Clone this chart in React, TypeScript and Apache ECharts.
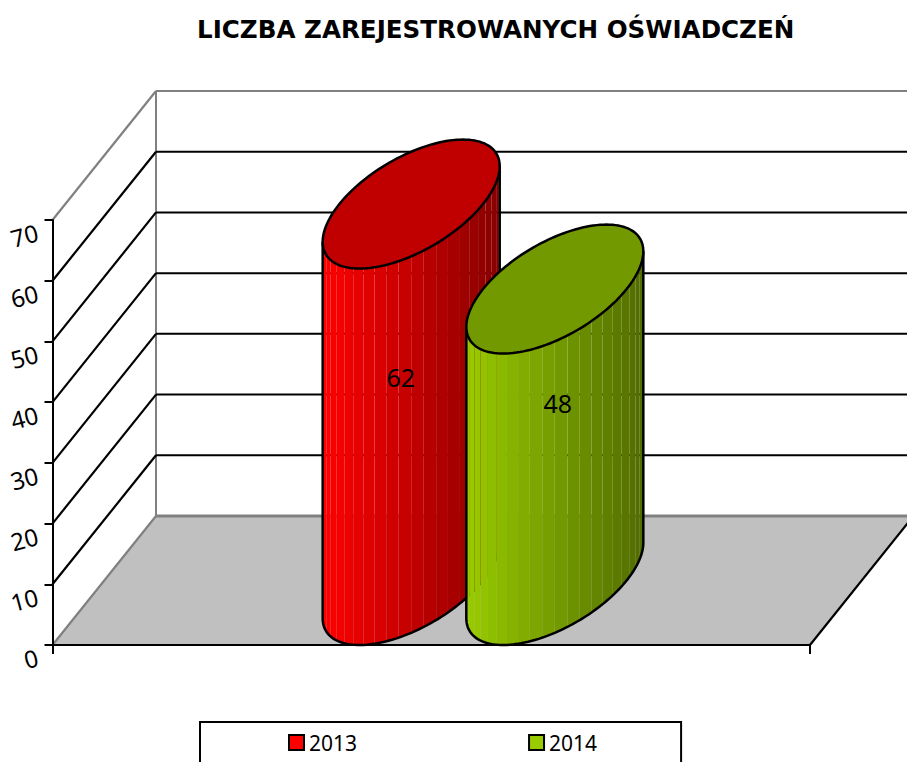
import React, { useEffect, useRef } from "react";
import * as echarts from "echarts";

const titleText = "LICZBA ZAREJESTROWANYCH OŚWIADCZEŃ";
const categories = [""];
const seriesNames = ["2013", "2014"];
const values2013 = [62];
const values2014 = [48];
const tickValues = [0, 10, 20, 30, 40, 50, 60, 70];

const FONT = "'Noto Sans', sans-serif";
const DEPTH_X = 103.5;
const DEPTH_Y = 129;
const BAR_RATIO = 0.0948;
const STRIPS = 22;

const styles = [
  { side: [255, 0, 0], top: "#C00000", side2: -1, labelDx: -10.5, labelDy: 108.5 },
  { side: [153, 204, 0], top: "#739900", side2: 1, labelDx: 3, labelDy: 49.5 },
];

function wallsItem(params: any, api: any) {
  const v = api.value(1);
  const cs = params.coordSys;
  const p = api.coord([0, v]);
  const x0 = cs.x;
  const x1 = cs.x + cs.width;
  const y = p[1];
  const gray = "#808080";
  const black = "#000000";
  const children: any[] = [];
  if (v === 0) {
    children.push({
      type: "polygon",
      shape: { points: [[x0, y], [x1, y], [x1 + DEPTH_X, y - DEPTH_Y], [x0 + DEPTH_X, y - DEPTH_Y]] },
      style: { fill: "#C0C0C0", stroke: null },
    });
    children.push({
      type: "line",
      shape: { x1: x1, y1: y, x2: x1 + DEPTH_X, y2: y - DEPTH_Y },
      style: { stroke: black, lineWidth: 2.2 },
    });
    const top = api.coord([0, 70])[1];
    children.push({
      type: "line",
      shape: { x1: x0 + DEPTH_X, y1: y - DEPTH_Y, x2: x0 + DEPTH_X, y2: top - DEPTH_Y },
      style: { stroke: gray, lineWidth: 2 },
    });
  }
  const edge = v === 0 || v === 70;
  children.push({
    type: "line",
    shape: { x1: x0, y1: y, x2: x0 + DEPTH_X, y2: y - DEPTH_Y },
    style: { stroke: edge ? gray : black, lineWidth: 2.2 },
  });
  children.push({
    type: "line",
    shape: { x1: x0 + DEPTH_X, y1: y - DEPTH_Y, x2: x1 + DEPTH_X, y2: y - DEPTH_Y },
    style: { stroke: edge ? gray : black, lineWidth: v === 0 ? 3 : 2 },
  });
  return { type: "group", children };
}

function cylinderItem(index: number) {
  return (params: any, api: any) => {
    const st = styles[index];
    const v = api.value(1);
    const top = api.coord([0, v]);
    const base = api.coord([0, 0]);
    const hw = api.size([1, 0])[0] * BAR_RATIO;
    const cx = top[0] + st.side2 * hw + DEPTH_X / 2;
    const topCy = top[1] - DEPTH_Y / 2;
    const baseCy = base[1] - DEPTH_Y / 2;
    const pt = (t: number, cy: number) => [
      cx + hw * Math.cos(t) + (DEPTH_X / 2) * Math.sin(t),
      cy - (DEPTH_Y / 2) * Math.sin(t),
    ];
    const tStar = Math.atan2(DEPTH_X / 2, hw);
    const children: any[] = [];
    const tAt = (k: number) => tStar - Math.PI + (k * Math.PI) / STRIPS;
    for (let k = 0; k < STRIPS; k++) {
      const t0 = tAt(k);
      const t1 = tAt(k + 1);
      const f = (1 - Math.cos(((k + 0.5) * Math.PI) / STRIPS)) / 2;
      const m = 1 - 0.47 * f;
      const [r, g, b] = st.side.map((c) => Math.round(c * m));
      children.push({
        type: "polygon",
        shape: {
          points: [pt(t0, topCy), pt(t1, topCy), pt(t1, baseCy), pt(t0, baseCy)],
        },
        style: { fill: `rgb(${r},${g},${b})`, stroke: null },
      });
    }
    const outline: number[][] = [pt(tStar, topCy)];
    for (let i = 0; i <= 72; i++) outline.push(pt(tStar - (i * Math.PI) / 72, baseCy));
    outline.push(pt(tStar - Math.PI, topCy));
    children.push({
      type: "polyline",
      shape: { points: outline },
      style: { stroke: "#000000", lineWidth: 2.5, fill: null },
    });
    const ellipse: number[][] = [];
    for (let i = 0; i < 144; i++) ellipse.push(pt((i * 2 * Math.PI) / 144, topCy));
    children.push({
      type: "polygon",
      shape: { points: ellipse },
      style: { fill: st.top, stroke: "#000000", lineWidth: 2.5 },
    });
    children.push({
      type: "text",
      style: {
        text: String(v),
        x: cx + st.labelDx,
        y: top[1] + st.labelDy,
        fill: "#000000",
        fontFamily: FONT,
        fontSize: 25,
        align: "center",
        verticalAlign: "middle",
      },
    });
    return { type: "group", children };
  };
}

export default function App() {
  const ref = useRef<HTMLDivElement>(null);
  useEffect(() => {
    const chart = echarts.init(ref.current!, null, { renderer: "svg" });
    chart.setOption({
      animation: false,
      backgroundColor: "#FFFFFF",
      title: {
        text: titleText,
        left: 197,
        top: 17,
        padding: 0,
        textStyle: { fontFamily: "'DejaVu Sans', sans-serif", fontSize: 24.6, fontWeight: "bold", color: "#000000" },
      },
      legend: {
        data: seriesNames.map((n, i) => ({
          name: n,
          icon: "rect",
          itemStyle: { color: "rgb(" + styles[i].side.join(",") + ")", borderColor: "#000000", borderWidth: 2 },
        })),
        left: 200,
        top: 722,
        orient: "horizontal",
        padding: [10, 84, 60, 88],
        itemWidth: 15,
        itemHeight: 15,
        itemGap: 171,
        borderColor: "#000000",
        borderWidth: 2,
        textStyle: { fontFamily: FONT, fontSize: 21, color: "#000000" },
      },
      grid: { left: 52.5, top: 220, width: 757.5, height: 425, containLabel: false },
      xAxis: {
        type: "category",
        data: categories,
        z: 3,
        axisLine: { lineStyle: { color: "#000000", width: 2 } },
        axisTick: { show: true, length: 9, lineStyle: { color: "#000000", width: 2 } },
        axisLabel: { show: false },
        splitLine: { show: false },
      },
      yAxis: {
        type: "value",
        min: 0,
        max: 70,
        interval: 10,
        z: 3,
        axisLine: { show: true, lineStyle: { color: "#000000", width: 2 } },
        axisTick: { show: true, length: 8, lineStyle: { color: "#000000", width: 2 } },
        axisLabel: {
          rotate: 15,
          margin: 18,
          align: "right",
          verticalAlign: "top",
          fontFamily: FONT,
          fontSize: 24,
          color: "#000000",
        },
        splitLine: { show: false },
      },
      series: [
        {
          type: "custom",
          z: 1,
          silent: true,
          clip: false,
          renderItem: wallsItem,
          encode: { x: 0, y: 1 },
          data: tickValues.map((v) => [0, v]),
        },
        {
          type: "custom",
          name: seriesNames[0],
          z: 4,
          silent: true,
          clip: false,
          renderItem: cylinderItem(0),
          encode: { x: 0, y: 1 },
          data: values2013.map((v, i) => [i, v]),
        },
        {
          type: "custom",
          name: seriesNames[1],
          z: 5,
          silent: true,
          clip: false,
          renderItem: cylinderItem(1),
          encode: { x: 0, y: 1 },
          data: values2014.map((v, i) => [i, v]),
        },
      ],
    });
    return () => chart.dispose();
  }, []);
  return <div ref={ref} style={{ position: "fixed", left: 0, top: 0, width: 907, height: 762 }} />;
}
